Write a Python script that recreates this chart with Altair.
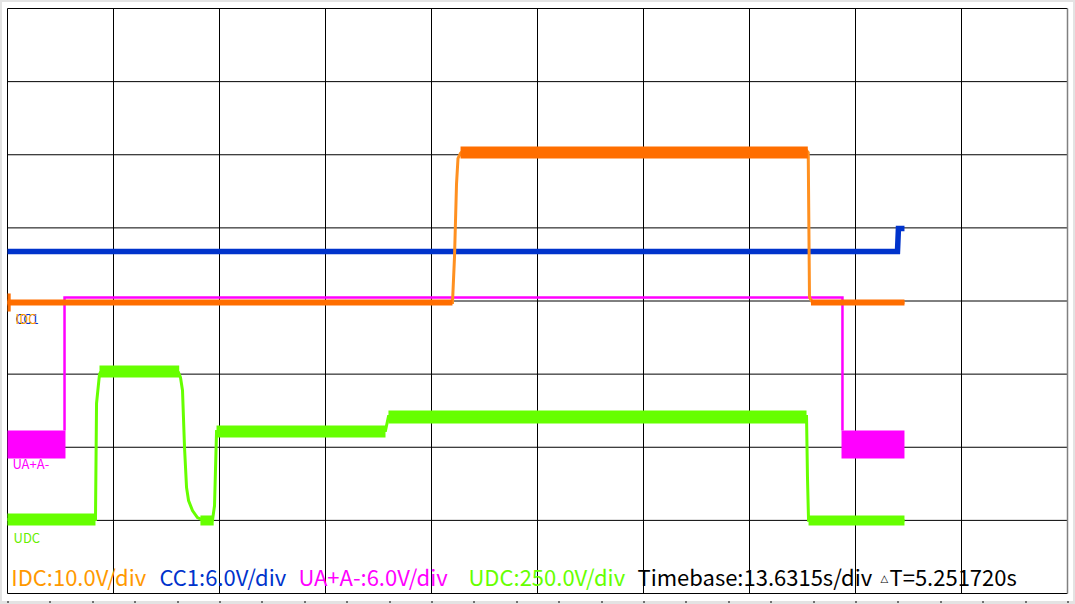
import altair as alt
import pandas as pd

# All values in oscilloscope divisions: x 0..10 (time), y 0..8 (bottom = 0)

# UDC (green) trace centre line
udc_x = [0.000, 0.830, 0.840, 0.868, 0.877, 1.349, 1.538, 1.613, 1.632, 1.651, 1.670, 1.689,
         1.708, 1.745, 1.792, 1.849, 1.934, 1.953, 1.972, 3.566, 3.594, 4.368, 4.651, 7.538,
         7.547, 7.557, 8.462]
udc_y = [1.012, 1.012, 2.600, 3.000, 3.022, 3.050, 3.063, 3.022, 2.954, 2.776, 1.997, 1.450,
         1.272, 1.135, 1.039, 1.000, 1.005, 1.200, 2.215, 2.229, 2.421, 2.435, 2.400, 2.421,
         1.586, 1.000, 0.998]
# UDC noise envelope per flat segment
udc_b_x1 = [0.000, 0.868, 1.820, 1.972, 3.594, 7.557]
udc_b_x2 = [0.830, 1.620, 1.945, 3.566, 7.538, 8.462]
udc_b_lo = [0.930, 2.954, 0.930, 2.133, 2.325, 0.930]
udc_b_hi = [1.094, 3.118, 1.067, 2.297, 2.503, 1.067]

# IDC (orange) trace
idc_x = [0.000, 4.198, 4.217, 4.236, 4.250, 4.274, 4.292, 7.538, 7.554, 7.566, 7.594, 8.462]
idc_y = [3.979, 3.979, 4.600, 5.600, 5.950, 6.020, 6.044, 6.058, 6.031, 4.050, 3.979, 3.979]
idc_b_x1 = [0.000, 4.274, 7.580, 0.000]
idc_b_x2 = [4.198, 7.550, 8.462, 0.030]
idc_b_lo = [3.938, 5.949, 3.938, 3.856]
idc_b_hi = [4.021, 6.113, 4.021, 4.103]

# CC1 (blue) trace
cc1_x = [0.000, 8.396, 8.405, 8.462]
cc1_y = [4.677, 4.677, 4.991, 4.991]

# UA+A- (magenta) trace
ua_x = [0.538, 0.538, 7.877, 7.877]
ua_y = [2.229, 4.048, 4.048, 2.229]
ua_b_x1 = [0.000, 7.868]
ua_b_x2 = [0.547, 8.462]
ua_b_lo = [1.846, 1.846]
ua_b_hi = [2.229, 2.229]

# Grid divisions
grid_x = [0, 1, 2, 3, 4, 5, 6, 7, 8, 9]
grid_y = [0, 1, 2, 3, 4, 5, 6, 7, 8]

# Texts
lbl_text = ["IDC:10.0V/div", "CC1:6.0V/div", "UA+A-:6.0V/div", "UDC:250.0V/div",
            "Timebase:13.6315s/div", "T=5.251720s"]
lbl_x = [0.035, 1.434, 2.745, 4.349, 5.943, 8.321]
lbl_color = ["#FF9900", "#0033CC", "#FF00FF", "#66FF00", "#000000", "#000000"]

tag_text = ["CC1", "IDC", "UA+A-", "UDC"]
tag_x = [0.075, 0.075, 0.047, 0.057]
tag_y = [3.692, 3.692, 1.709, 0.684]
tag_color = ["#0033CC", "#FF9900", "#FF00FF", "#66EE00"]

FONT = "Noto Sans CJK SC"

X = alt.Scale(domain=[0, 10], nice=False, zero=False)
Y = alt.Scale(domain=[0, 8], nice=False, zero=False)

frame = alt.Chart(pd.DataFrame({"a": [0]})).mark_rect(color="white").encode(
    x=alt.value(-5.5), x2=alt.value(1065.5), y=alt.value(-6.5), y2=alt.value(592.5)
)

gx = pd.DataFrame({"g": grid_x})
gy = pd.DataFrame({"g": grid_y})

vgrid = alt.Chart(gx).mark_rule(color="black", strokeWidth=1).encode(
    x=alt.X("g:Q", scale=X,
            axis=alt.Axis(values=[i * 0.2 for i in range(51)], labels=False, grid=False,
                          domain=False, tickSize=6, offset=3, tickColor="black",
                          tickWidth=1, title=None)),
    y=alt.value(0), y2=alt.value(585)
)
rgrid = alt.Chart(pd.DataFrame({"g": [10]})).mark_rule(color="#808080", strokeWidth=1.5).encode(
    x=alt.X("g:Q", scale=X), y=alt.value(0), y2=alt.value(585)
)
hgrid = alt.Chart(gy).mark_rule(color="black", strokeWidth=1).encode(
    y=alt.Y("g:Q", scale=Y,
            axis=alt.Axis(values=[i * 0.2 for i in range(41)], labels=False, grid=False,
                          domain=False, tickSize=4, offset=0, tickColor="black",
                          tickWidth=1, title=None)),
    x=alt.value(0), x2=alt.value(1060)
)


def band(x1, x2, lo, hi, color):
    df = pd.DataFrame({"x1": x1, "x2": x2, "lo": lo, "hi": hi})
    return alt.Chart(df).mark_rect(color=color).encode(
        x=alt.X("x1:Q", scale=X), x2="x2:Q",
        y=alt.Y("lo:Q", scale=Y), y2="hi:Q"
    )


def trace(xs, ys, color, width):
    df = pd.DataFrame({"x": xs, "y": ys, "i": list(range(len(xs)))})
    return alt.Chart(df).mark_line(color=color, strokeWidth=width, strokeCap="butt",
                                   strokeJoin="miter").encode(
        x=alt.X("x:Q", scale=X), y=alt.Y("y:Q", scale=Y), order="i:Q"
    )


ua_band = band(ua_b_x1, ua_b_x2, ua_b_lo, ua_b_hi, "#FF00FF")
ua_line = trace(ua_x, ua_y, "#FF00FF", 2.5)
cc1_line = trace(cc1_x, cc1_y, "#0033CC", 5.5)
idc_band = band(idc_b_x1, idc_b_x2, idc_b_lo, idc_b_hi, "#FF6E00")
idc_line = trace(idc_x, idc_y, "#FF9020", 3)
udc_band = band(udc_b_x1, udc_b_x2, udc_b_lo, udc_b_hi, "#66FF00")
udc_line = trace(udc_x, udc_y, "#66FF00", 3)

lbl_df = pd.DataFrame({"t": lbl_text, "x": lbl_x, "y": [0.096] * len(lbl_text), "c": lbl_color})
labels = alt.Chart(lbl_df).mark_text(align="left", baseline="alphabetic", font=FONT,
                                     fontSize=22).encode(
    x=alt.X("x:Q", scale=X), y=alt.Y("y:Q", scale=Y), text="t:N",
    color=alt.Color("c:N", scale=None)
)
tri = alt.Chart(pd.DataFrame({"t": ["△"], "x": [8.236], "y": [0.164]})).mark_text(
    align="left", baseline="alphabetic", font="DejaVu Sans", fontSize=10, color="black"
).encode(x=alt.X("x:Q", scale=X), y=alt.Y("y:Q", scale=Y), text="t:N")

tag_df = pd.DataFrame({"t": tag_text, "x": tag_x, "y": tag_y, "c": tag_color})
tags = alt.Chart(tag_df).mark_text(align="left", baseline="alphabetic", font=FONT,
                                   fontSize=13).encode(
    x=alt.X("x:Q", scale=X), y=alt.Y("y:Q", scale=Y), text="t:N",
    color=alt.Color("c:N", scale=None)
)

chart = alt.layer(
    frame, vgrid, hgrid, rgrid,
    ua_band, ua_line, cc1_line, idc_line, idc_band, udc_band, udc_line,
    tags, labels, tri
).properties(
    width=1060, height=585,
    padding={"left": 7.5, "top": 8.5, "right": 7.5, "bottom": 10.5},
    autosize=alt.AutoSizeParams(type="none"),
    background="#E3E3E3",
).configure_view(stroke=None)

chart.save("out.html", embed_options={"renderer": "svg", "actions": False})
